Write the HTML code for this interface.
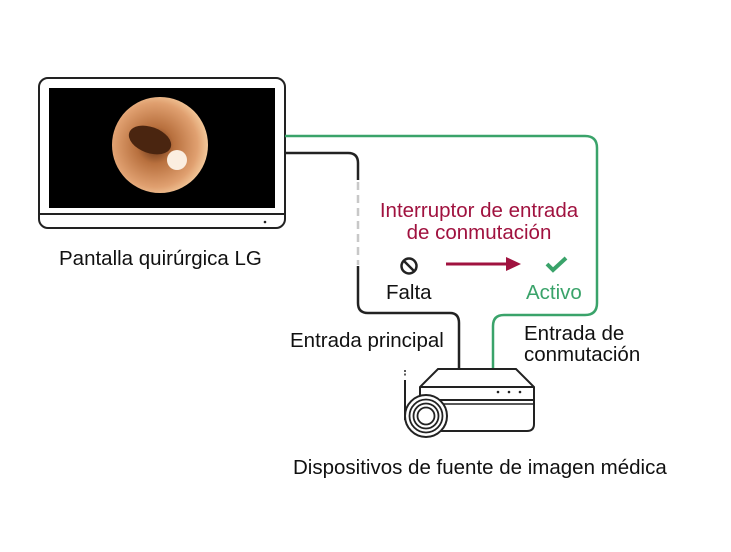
<!DOCTYPE html>
<html><head><style>
body{margin:0;width:731px;height:552px;background:#fff;overflow:hidden;position:relative;font-family:"Liberation Sans",sans-serif;}
.t{position:absolute;white-space:nowrap;color:#111;font-size:20.5px;}
</style></head><body>
<svg width="731" height="552" style="position:absolute;left:0;top:0">
<defs><radialGradient id="g" cx="45%" cy="50%" r="55%"><stop offset="0" stop-color="#5a2a10"/><stop offset="0.35" stop-color="#b8703e"/><stop offset="0.8" stop-color="#e0a070"/><stop offset="1" stop-color="#f3c89a"/></radialGradient></defs>
<rect x="39" y="78" width="246" height="150" rx="9" fill="#fff" stroke="#222" stroke-width="2"/>
<rect x="49" y="88" width="226" height="120" fill="#000"/>
<line x1="40" y1="214" x2="284" y2="214" stroke="#222" stroke-width="2"/>
<circle cx="265" cy="222" r="1.3" fill="#222"/>
<circle cx="160" cy="145" r="48" fill="url(#g)"/>
<ellipse cx="150" cy="140" rx="22" ry="13" transform="rotate(20 150 140)" fill="#4a2510"/>
<circle cx="177" cy="160" r="10" fill="#fbeee0"/>
<path d="M285 153 H348 Q358 153 358 163 V180" fill="none" stroke="#222" stroke-width="2.5"/>
<path d="M358 182 V265" fill="none" stroke="#c8c8c8" stroke-width="2.5" stroke-dasharray="8,5"/>
<path d="M358 266 V303 Q358 313 368 313 H450 Q459 313 459 323 V368" fill="none" stroke="#222" stroke-width="2.5"/>
<path d="M285 136 H585 Q597 136 597 148 V303 Q597 315 585 315 H504 Q493 315 493 326 V368" fill="none" stroke="#3aa36a" stroke-width="2.5"/>
<line x1="446" y1="264" x2="508" y2="264" stroke="#a0123f" stroke-width="3"/>
<polygon points="506,257 521,264 506,271" fill="#a0123f"/>
<circle cx="409" cy="266" r="7.5" fill="none" stroke="#222" stroke-width="2.5"/>
<line x1="404" y1="261" x2="414" y2="271" stroke="#222" stroke-width="2.5"/>
<polyline points="547,264 553,270 566,258" fill="none" stroke="#3aa36a" stroke-width="4"/>
<path d="M420 400 V387 L438 369 H516 L534 387 V424 Q534 431 527 431 H440" fill="#fff" stroke="#222" stroke-width="2"/>
<line x1="420" y1="387" x2="534" y2="387" stroke="#222" stroke-width="2"/>
<line x1="430" y1="400" x2="534" y2="400" stroke="#222" stroke-width="2"/>
<line x1="430" y1="404" x2="534" y2="404" stroke="#222" stroke-width="1.5"/>
<circle cx="498" cy="392" r="1.3" fill="#222"/><circle cx="509" cy="392" r="1.3" fill="#222"/><circle cx="520" cy="392" r="1.3" fill="#222"/>
<path d="M405 380 V420" stroke="#222" stroke-width="2" fill="none"/>
<path d="M405 370 V377" stroke="#222" stroke-width="1.5" stroke-dasharray="2,1.5" fill="none"/>
<circle cx="426" cy="416" r="21" fill="#fff" stroke="#222" stroke-width="2"/>
<circle cx="426" cy="416" r="16.5" fill="none" stroke="#222" stroke-width="1.8"/>
<circle cx="426" cy="416" r="12.5" fill="none" stroke="#222" stroke-width="1.8"/>
<circle cx="426" cy="416" r="8.5" fill="none" stroke="#222" stroke-width="1.8"/>
</svg>
<div class="t" style="left:59px;top:247px;">Pantalla quirúrgica LG</div>
<div class="t" style="left:376px;top:200px;width:206px;color:#a0123f;text-align:center;line-height:22px;">Interruptor de entrada<br>de conmutación</div>
<div class="t" style="left:386px;top:281px;">Falta</div>
<div class="t" style="left:526px;top:281px;color:#3aa36a;">Activo</div>
<div class="t" style="left:290px;top:329px;">Entrada principal</div>
<div class="t" style="left:524px;top:323px;line-height:21px;">Entrada de<br>conmutación</div>
<div class="t" style="left:293px;top:456px;">Dispositivos de fuente de imagen médica</div>
</body></html>
